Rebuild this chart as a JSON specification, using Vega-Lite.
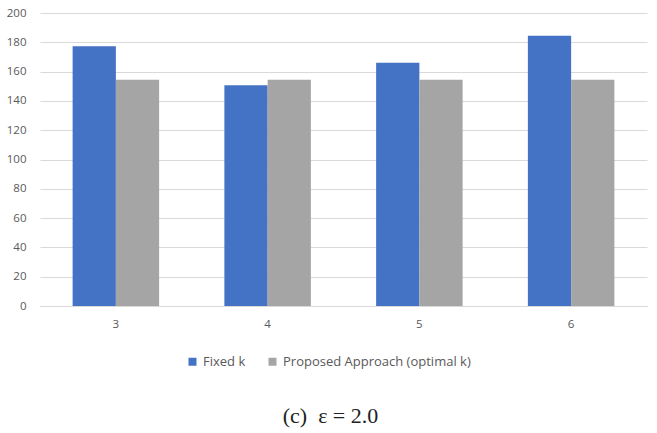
{
  "$schema": "https://vega.github.io/schema/vega-lite/v6.json",
  "autosize": {"type": "none"},
  "width": 607,
  "height": 293,
  "padding": {"left": 40, "top": 13, "right": 10, "bottom": 127},
  "background": "white",
  "data": {
    "values": [
      {"k": "3", "method": "Fixed k", "value": 177.3},
      {"k": "3", "method": "Proposed Approach (optimal k)", "value": 154.5},
      {"k": "4", "method": "Fixed k", "value": 150.7},
      {"k": "4", "method": "Proposed Approach (optimal k)", "value": 154.5},
      {"k": "5", "method": "Fixed k", "value": 166},
      {"k": "5", "method": "Proposed Approach (optimal k)", "value": 154.5},
      {"k": "6", "method": "Fixed k", "value": 184.5},
      {"k": "6", "method": "Proposed Approach (optimal k)", "value": 154.5}
    ]
  },
  "title": {
    "text": "(c)\u00a0\u00a0ε\u00a0=\u00a02.0",
    "orient": "bottom",
    "anchor": "middle",
    "font": "Liberation Serif",
    "fontSize": 22,
    "fontWeight": "normal",
    "color": "#222222",
    "offset": 37,
    "dx": -13
  },
  "mark": {"type": "bar"},
  "encoding": {
    "x": {
      "field": "k",
      "type": "nominal",
      "scale": {"paddingInner": 0.43, "paddingOuter": 0.215},
      "axis": {
        "title": null,
        "labelAngle": 0,
        "ticks": false,
        "domainColor": "#d9d9d9",
        "labelPadding": 12,
        "labelFont": "Open Sans",
        "labelFontSize": 11.5,
        "labelColor": "#595959"
      }
    },
    "xOffset": {"field": "method", "type": "nominal", "sort": ["Fixed k", "Proposed Approach (optimal k)"]},
    "y": {
      "field": "value",
      "type": "quantitative",
      "scale": {"domain": [0, 200]},
      "axis": {
        "title": null,
        "values": [0, 20, 40, 60, 80, 100, 120, 140, 160, 180, 200],
        "domain": false,
        "ticks": false,
        "gridColor": "#d9d9d9",
        "labelPadding": 14,
        "labelFont": "Open Sans",
        "labelFontSize": 11.5,
        "labelColor": "#595959"
      }
    },
    "color": {
      "field": "method",
      "type": "nominal",
      "sort": ["Fixed k", "Proposed Approach (optimal k)"],
      "scale": {"range": ["#4472c4", "#a5a5a5"]},
      "legend": {
        "title": null,
        "orient": "none",
        "legendX": 146,
        "legendY": 342,
        "direction": "horizontal",
        "symbolType": "square",
        "symbolSize": 64,
        "labelFont": "Open Sans",
        "labelFontSize": 13,
        "labelColor": "#595959",
        "labelLimit": 400,
        "columnPadding": 20
      }
    }
  },
  "config": {
    "view": {"stroke": null}
  }
}
